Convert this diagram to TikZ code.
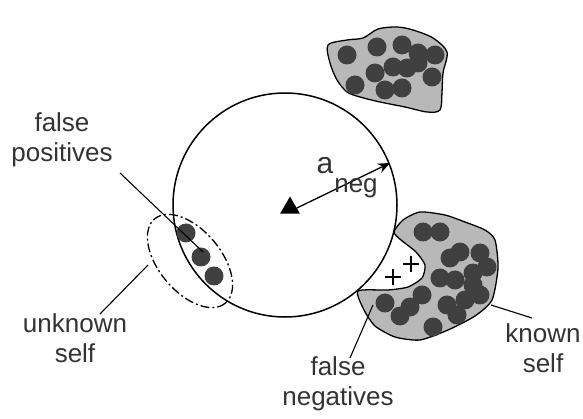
\documentclass[tikz,border=0pt]{standalone}
\usepackage{fontspec}
\setmainfont{Liberation Sans}
\usepackage{tikz}
\usetikzlibrary{shapes.geometric, arrows.meta}

\definecolor{blobgray}{gray}{0.72}
\definecolor{dotgray}{gray}{0.25}
\definecolor{textgray}{gray}{0.2}

\begin{document}
\begin{tikzpicture}[
    x=1pt, y=-1pt,
    blob/.style={
        draw=black,
        line width=1.3pt,
        fill=blobgray
    },
    dot/.style={
        fill=dotgray
    },
    pointer/.style={
        draw=black,
        line width=1.1pt
    },
    caption/.style={
        text=textgray,
        align=center,
        font=\fontsize{26}{30}\selectfont
    }
]
\useasboundingbox (0,0) rectangle (583,419);

% Top cluster of self
\draw[blob] plot[smooth cycle, tension=0.5] coordinates {
    (328,45) (347,40) (363,38) (378,29) (397,27) (413,30) (433,38)
    (447,52) (443,73) (442,92) (440,110) (427,112) (405,107)
    (380,102) (360,97) (347,92) (337,80) (330,63)};
\foreach \px/\py in {347/55, 377/47, 402/45, 418/53, 435/55, 432/77,
    393/67, 407/68, 375/73, 355/85, 385/90, 402/88, 418/63}
    \fill[dot] (\px,\py) circle (9.5);

% Lower cluster of known self
\draw[blob] plot[smooth cycle, tension=0.4] coordinates {
    (394,232) (401,240) (416,252) (425,265) (422,278) (408,287)
    (388,290) (358,291) (364,310) (375,326) (395,337) (420,340)
    (448,330) (475,316) (492,300) (498,268) (495,240) (485,230)
    (465,222) (445,215) (420,212) (403,220)};
\foreach \px/\py in {423/232, 440/232, 460/252, 480/253, 487/267,
    473/273, 450/258, 440/278, 455/280, 480/295, 465/300, 447/305,
    457/315, 422/295, 410/307, 400/316, 385/303, 433/327, 473/285}
    \fill[dot] (\px,\py) circle (9.5);

% false negatives
\foreach \px/\py in {411/264, 393/277}
    \draw[line width=1.6pt] (\px-8,\py) -- (\px+8,\py) (\px,\py-8) -- (\px,\py+8);

% Detector
\draw[line width=1.5pt] (285,205) circle (112);
\node[regular polygon, regular polygon sides=3, fill=black,
      inner sep=0pt, minimum size=23pt] (center) at (290,208) {};
\coordinate (rim) at (390,163);
\draw[-{Stealth[length=12pt,width=10pt]}, line width=1.3pt]
    (center.east) -- (rim);
\node[caption, font=\fontsize{30}{30}\selectfont] (a) at (325,166) {a};
\node[caption] (neg) at (356,188) {neg};

% Unknown self
\foreach \px/\py in {186/233, 201/257, 214/276}
    \fill[dot] (\px,\py) circle (9.5);
\draw[line width=1.3pt, dash pattern=on 9pt off 3pt on 2pt off 3pt]
    (190,261) [rotate around={-50:(190,261)}] ellipse (55 and 31);

% Labels
\node[caption] (fpos) at (62,140) {false\\positives};
\node[caption] (unself) at (75,338) {unknown\\self};
\node[caption] (fneg) at (338,384) {false\\negatives};
\node[caption] (knself) at (543,348) {known\\self};

\coordinate (fposend) at (203,252);
\coordinate (unselfend) at (148,265);
\coordinate (fnegend) at (373,305);
\coordinate (knselfend) at (491,305);

\draw[pointer] (120,173) -- (fposend);
\draw[pointer] (100,314) -- (unselfend);
\draw[pointer] (350,358) -- (fnegend);
\draw[pointer] (532,318) -- (knselfend);

\end{tikzpicture}
\end{document}
